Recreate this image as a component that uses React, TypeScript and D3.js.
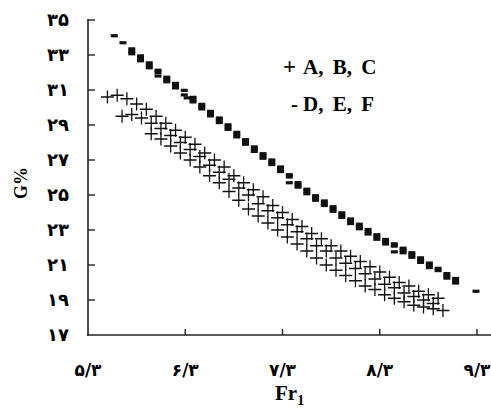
import React from "react";
import * as d3 from "d3";

// Fr1 values and G% values
const frA = [5.5, 5.6, 5.7, 5.8, 5.9, 6.0, 6.1, 6.2, 6.3, 6.4, 6.5, 6.6, 6.7, 6.8, 6.9, 7.0, 7.1, 7.2, 7.3, 7.4, 7.5, 7.6, 7.7, 7.8, 7.9, 8.0, 8.1, 8.2, 8.3, 8.4, 8.5, 8.6, 8.7, 8.8, 8.9];
const gA = [30.6, 30.7, 30.5, 30.2, 29.9, 29.5, 29.1, 28.7, 28.3, 27.9, 27.4, 27.0, 26.6, 26.1, 25.7, 25.3, 24.9, 24.4, 24.0, 23.6, 23.2, 22.8, 22.5, 22.1, 21.8, 21.5, 21.2, 20.9, 20.6, 20.3, 20.0, 19.8, 19.5, 19.3, 19.1];

const frB = [5.65, 5.75, 5.85, 5.95, 6.05, 6.15, 6.25, 6.35, 6.45, 6.55, 6.65, 6.75, 6.85, 6.95, 7.05, 7.15, 7.25, 7.35, 7.45, 7.55, 7.65, 7.75, 7.85, 7.95, 8.05, 8.15, 8.25, 8.35, 8.45, 8.55, 8.65, 8.75, 8.85];
const gB = [29.5, 29.6, 29.4, 29.1, 28.8, 28.4, 28.0, 27.6, 27.2, 26.7, 26.3, 25.9, 25.4, 25.0, 24.5, 24.1, 23.7, 23.3, 22.9, 22.5, 22.1, 21.8, 21.4, 21.1, 20.8, 20.5, 20.2, 19.9, 19.7, 19.4, 19.2, 19.0, 18.8];

const frC = [5.95, 6.05, 6.15, 6.25, 6.35, 6.45, 6.55, 6.65, 6.75, 6.85, 6.95, 7.05, 7.15, 7.25, 7.35, 7.45, 7.55, 7.65, 7.75, 7.85, 7.95, 8.05, 8.15, 8.25, 8.35, 8.45, 8.55, 8.65, 8.75, 8.85, 8.95];
const gC = [28.5, 28.2, 27.8, 27.4, 27.0, 26.6, 26.1, 25.7, 25.2, 24.7, 24.2, 23.8, 23.4, 23.0, 22.6, 22.2, 21.8, 21.4, 21.0, 20.7, 20.4, 20.1, 19.8, 19.6, 19.3, 19.1, 18.9, 18.7, 18.6, 18.5, 18.4];

const frD = [5.75, 5.84, 5.93, 6.02, 6.11, 6.2, 6.29, 6.38, 6.47, 6.56, 6.65, 6.74, 6.83, 6.92, 7.01, 7.1, 7.19, 7.28, 7.37, 7.46, 7.55, 7.64, 7.73, 7.82, 7.91, 8.0, 8.09, 8.18, 8.27, 8.36, 8.45, 8.54, 8.63, 8.72, 8.81, 8.9, 8.99, 9.08];
const gD = [33.35, 32.95, 32.55, 32.13, 31.73, 31.38, 30.98, 30.58, 30.18, 29.78, 29.4, 29.01, 28.58, 28.16, 27.75, 27.36, 27.0, 26.6, 26.16, 25.71, 25.33, 24.96, 24.66, 24.33, 23.98, 23.63, 23.33, 23.03, 22.73, 22.46, 22.21, 21.96, 21.7, 21.41, 21.11, 20.81, 20.51, 20.23];

const frE = [5.57, 5.66, 5.75, 5.84, 5.93, 6.02, 6.11, 6.2, 6.32, 6.38, 6.47, 6.56, 6.65, 6.74, 6.83, 6.92, 7.01, 7.1, 7.19, 7.28, 7.37, 7.46, 7.55, 7.64, 7.73, 7.82, 7.91, 8.0, 8.09, 8.18, 8.27, 8.36, 8.45, 8.54, 8.63, 8.72, 8.81, 8.9, 8.99, 9.08, 9.29];
const gE = [34.1, 33.7, 33.2, 32.8, 32.4, 32.0, 31.6, 31.25, 30.55, 30.45, 30.05, 29.65, 29.27, 28.88, 28.45, 28.03, 27.62, 27.23, 26.87, 26.47, 26.03, 25.58, 25.2, 24.83, 24.53, 24.2, 23.85, 23.5, 23.2, 22.9, 22.6, 22.33, 22.08, 21.83, 21.57, 21.28, 20.98, 20.68, 20.38, 20.1, 19.5];

const frF = [5.75, 5.84, 5.93, 6.02, 6.11, 6.2, 6.29, 6.38, 6.47, 6.56, 6.65, 6.74, 6.83, 6.92, 7.01, 7.1, 7.19, 7.28, 7.37, 7.46, 7.55, 7.64, 7.73, 7.82, 7.91, 8.0, 8.09, 8.18, 8.27, 8.36, 8.45, 8.54, 8.63, 8.72, 8.81, 8.99, 9.08];
const gF = [33.07, 32.67, 32.27, 31.8, 31.47, 31.12, 30.72, 30.32, 29.92, 29.52, 29.14, 28.75, 28.32, 27.9, 27.49, 27.1, 26.74, 26.34, 25.7, 25.45, 25.07, 24.7, 24.4, 24.07, 23.72, 23.37, 23.07, 22.77, 22.47, 22.2, 21.75, 21.7, 21.44, 21.15, 20.85, 20.25, 19.97];

const yTicks = [17, 19, 21, 23, 25, 27, 29, 31, 33, 35];
const yTickLabels = ["۱۷", "۱۹", "۲۱", "۲۳", "۲۵", "۲۷", "۲۹", "۳۱", "۳۳", "۳۵"];
const xTicks = [5.3, 6.3, 7.3, 8.3, 9.3];
const xTickLabels = ["۵/۳", "۶/۳", "۷/۳", "۸/۳", "۹/۳"];

const W = 491;
const H = 409;

const x = d3.scaleLinear().domain([5.3, 9.3]).range([88, 477]);
const y = d3.scaleLinear().domain([17, 35]).range([335, 20]);

const zip = (xs: number[], ys: number[]) => xs.map((v, i) => [v, ys[i]]);

const plus = (fr: number[], g: number[], key: string) =>
  zip(fr, g).map(([a, b], i) => (
    <path
      key={key + i}
      d={`M${x(a) - 6.5},${y(b)}h13M${x(a)},${y(b) - 6.5}v13`}
      stroke="#111"
      strokeWidth={1.3}
      fill="none"
    />
  ));

const dash = (fr: number[], g: number[], key: string) =>
  zip(fr, g).map(([a, b], i) => (
    <rect key={key + i} x={x(a) - 3.5} y={y(b) - 1.6} width={7} height={3.2} fill="#111" />
  ));

const App = () => {
  const tickFont = "'DejaVu Sans', sans-serif";
  const serif = "'Liberation Serif', serif";
  return (
    <div style={{ position: "absolute", left: 0, top: 0, width: W, height: H, background: "#fff" }}>
      <svg width={W} height={H}>
        {/* axes */}
        <line x1={88} x2={88} y1={19} y2={336} stroke="#222" strokeWidth={1.6} />
        <line x1={87} x2={491} y1={335} y2={335} stroke="#222" strokeWidth={1.6} />
        {yTicks.map((t, i) => (
          <g key={"yt" + t}>
            {i > 0 && <line x1={88} x2={95} y1={y(t)} y2={y(t)} stroke="#222" strokeWidth={1.4} />}
            <text
              x={69}
              y={y(t)}
              dy="0.35em"
              textAnchor="end"
              fontFamily={tickFont}
              fontWeight="bold"
              fontSize={18}
            >
              {yTickLabels[i]}
            </text>
          </g>
        ))}
        {xTicks.map((t, i) => (
          <g key={"xt" + t}>
            {i > 0 && <line x1={x(t)} x2={x(t)} y1={335} y2={329} stroke="#222" strokeWidth={1.4} />}
            <text
              x={x(t)}
              y={376}
              textAnchor="middle"
              fontFamily={tickFont}
              fontWeight="bold"
              fontSize={17}
            >
              {xTickLabels[i]}
            </text>
          </g>
        ))}

        {/* series */}
        {plus(frA, gA, "a")}
        {plus(frB, gB, "b")}
        {plus(frC, gC, "c")}
        {dash(frD, gD, "d")}
        {dash(frE, gE, "e")}
        {dash(frF, gF, "f")}

        {/* legend */}
        <g fontFamily={serif} fontWeight="bold" fontSize={21}>
          <text x={283} y={74} fontSize={23}>+</text>
          <text x={303} y={74} wordSpacing={4}>A, B, C</text>
          <text x={291} y={111}>-</text>
          <text x={303} y={111} wordSpacing={4}>D, E, F</text>
        </g>

        {/* axis titles */}
        <text
          transform="translate(27,183) rotate(-90)"
          textAnchor="middle"
          fontFamily={serif}
          fontWeight="bold"
          fontSize={18}
        >
          G%
        </text>
        <text x={275} y={400} fontFamily={serif} fontWeight="bold" fontSize={21}>
          Fr
          <tspan fontSize={14} dy={5}>1</tspan>
        </text>
      </svg>
    </div>
  );
};

export default App;
